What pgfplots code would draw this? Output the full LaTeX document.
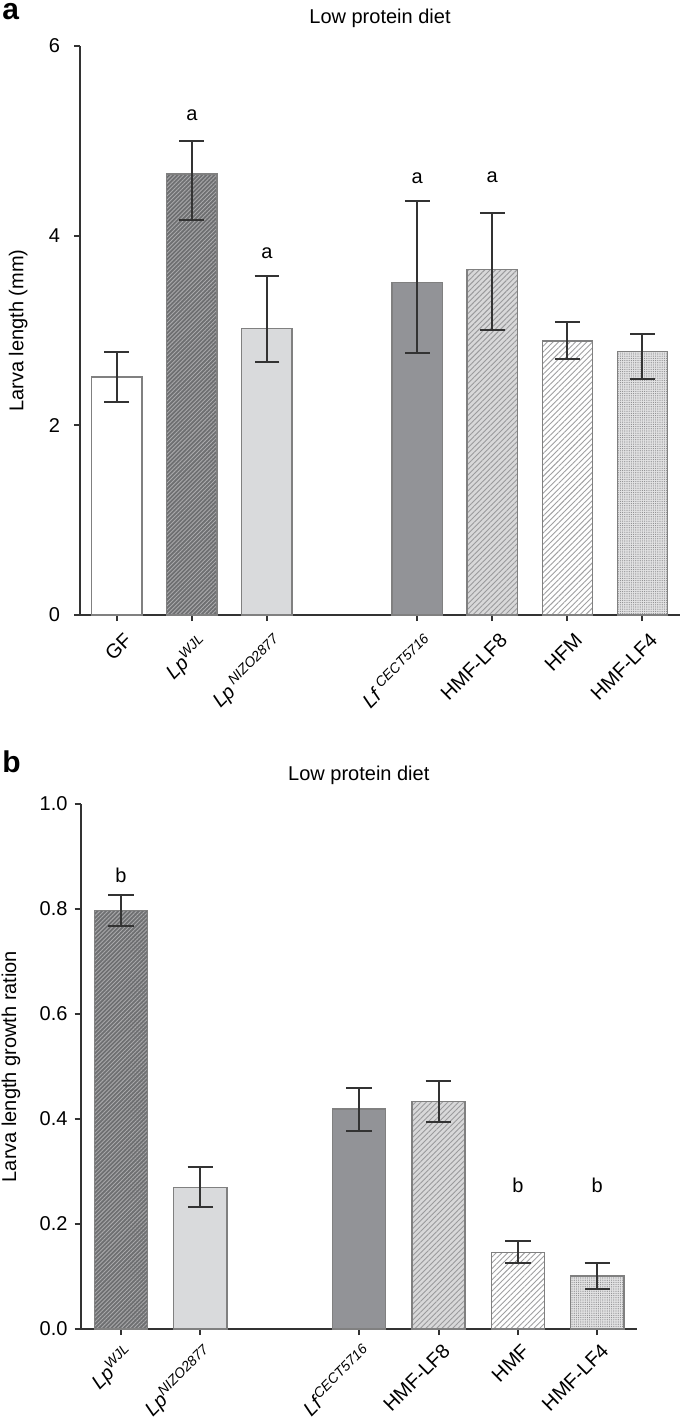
\documentclass[border=0pt]{standalone}
\usepackage{pgfplots}
\pgfplotsset{compat=1.18}
\usepackage{fontspec}
\setmainfont{Liberation Sans}
\usetikzlibrary{patterns.meta}
\definecolor{bd}{HTML}{808080}
\definecolor{axc}{HTML}{333333}
\definecolor{fWJL}{HTML}{6E6F71}
\definecolor{sWJL}{HTML}{A9A9AB}
\definecolor{fNIZO}{HTML}{D9DADC}
\definecolor{fLf}{HTML}{929397}
\definecolor{fLF8}{HTML}{D8D8D9}
\definecolor{sLF8}{HTML}{9A9A9C}
\definecolor{sHFM}{HTML}{A0A0A2}
\definecolor{fLF4}{HTML}{E2E2E3}
\definecolor{dLF4}{HTML}{8A8A8C}
\begin{document}
\fontsize{10pt}{12pt}\selectfont
\begin{tikzpicture}
\useasboundingbox (0,0) rectangle (342.5pt,-710.5pt);
\pgfplotsset{
  mybase/.style={
    scale only axis, axis lines*=left,
    axis line style={line width=1pt, color=axc},
    every tick/.style={line width=1pt, color=axc},
    tick align=outside, major tick length=3pt,
    clip=false, ymin=0,
    /pgf/number format/assume math mode=true,
    ticklabel style={font=\fontsize{10pt}{12pt}\selectfont},
    xticklabel style={rotate=45, anchor=north east, inner sep=1.5pt},
    xtick pos=bottom, ytick pos=left,
    label style={font=\fontsize{10pt}{12pt}\selectfont},
  },
  bb/.style={ybar, bar width=0.67, bar shift=0pt, draw=bd, line width=0.65pt},
  eb/.style={error bars/.cd, y dir=both, y explicit,
    error bar style={line width=1pt, color=axc},
    error mark options={rotate=90, mark size=#1, line width=1pt, color=axc}},
}
% ---------------- Panel a ----------------
\node[anchor=base west, inner sep=0pt, font=\bfseries\fontsize{15pt}{18pt}\selectfont] at (1pt,-9.5pt) {a};
\node[anchor=base, inner sep=0pt] at (190pt,-11.5pt) {Low protein diet};
\begin{axis}[mybase,
  at={(40pt,-307.5pt)}, anchor=south west,
  width=300pt, height=284.5pt,
  xmin=-0.49, xmax=7.5, ymax=6,
  ytick={0,2,4,6},
  yticklabel style={xshift=-3.5pt},
  xticklabel style={yshift=-4.5pt},
  xtick={0,1,2,4,5,6,7},
  xticklabels={GF, \textit{Lp}\textsuperscript{\textit{WJL}}, \textit{Lp}\,\textsuperscript{\textit{NIZO2877}}, \textit{Lf}\,\textsuperscript{\textit{CECT5716}}, HMF-LF8, HFM, HMF-LF4},
  ylabel={Larva length (mm)},
  ylabel style={at={(axis description cs:-0.103,0.5)}, anchor=center},
]
\addplot[bb, fill=white, eb=6.2pt] coordinates {(0,2.51) += (0,0.26) -= (0,0.26)};
\addplot[bb, fill=fWJL, postaction={pattern={Lines[angle=45,distance=1.45pt,line width=0.45pt]}, pattern color=sWJL}, eb=6.2pt] coordinates {(1,4.65) += (0,0.35) -= (0,0.48)};
\addplot[bb, fill=fNIZO, eb=6.2pt] coordinates {(2,3.02) += (0,0.55) -= (0,0.35)};
\addplot[bb, fill=fLf, eb=6.2pt] coordinates {(4,3.51) += (0,0.86) -= (0,0.75)};
\addplot[bb, fill=fLF8, postaction={pattern={Lines[angle=45,distance=1.9pt,line width=0.45pt]}, pattern color=sLF8}, eb=6.2pt] coordinates {(5,3.64) += (0,0.60) -= (0,0.63)};
\addplot[bb, fill=white, postaction={pattern={Lines[angle=45,distance=2pt,line width=0.45pt]}, pattern color=sHFM}, eb=6.2pt] coordinates {(6,2.89) += (0,0.20) -= (0,0.19)};
\addplot[bb, fill=fLF4, postaction={pattern={Dots[distance=1.1pt,radius=0.3pt]}, pattern color=dLF4}, eb=6.2pt] coordinates {(7,2.78) += (0,0.18) -= (0,0.29)};
\node at (axis cs:1,5.27) {a};
\node at (axis cs:2,3.82) {a};
\node at (axis cs:4,4.61) {a};
\node at (axis cs:5,4.62) {a};
\end{axis}
% ---------------- Panel b ----------------
\node[anchor=base west, inner sep=0pt, font=\bfseries\fontsize{15pt}{18pt}\selectfont] at (1pt,-386pt) {b};
\node[anchor=base, inner sep=0pt] at (179.4pt,-390pt) {Low protein diet};
\begin{axis}[mybase,
  at={(40.25pt,-664.5pt)}, anchor=south west,
  width=278.25pt, height=262.5pt,
  xmin=-0.51, xmax=6.5, ymax=1,
  ytick={0,0.2,0.4,0.6,0.8,1.0},
  yticklabel style={/pgf/number format/.cd, fixed, fixed zerofill, precision=1},
  xticklabel style={yshift=-2pt},
  xtick={0,1,3,4,5,6},
  xticklabels={\textit{Lp}\textsuperscript{\textit{WJL}}, \textit{Lp}\textsuperscript{\textit{NIZO2877}}, \textit{Lf}\textsuperscript{\textit{CECT5716}}, HMF-LF8, HMF, HMF-LF4},
  ylabel={Larva length growth ration},
  ylabel style={at={(axis description cs:-0.125,0.5)}, anchor=center},
]
\addplot[bb, fill=fWJL, postaction={pattern={Lines[angle=45,distance=1.45pt,line width=0.45pt]}, pattern color=sWJL}, eb=6.4pt] coordinates {(0,0.797) += (0,0.030) -= (0,0.029)};
\addplot[bb, fill=fNIZO, eb=6.4pt] coordinates {(1,0.269) += (0,0.040) -= (0,0.037)};
\addplot[bb, fill=fLf, eb=6.4pt] coordinates {(3,0.419) += (0,0.041) -= (0,0.042)};
\addplot[bb, fill=fLF8, postaction={pattern={Lines[angle=45,distance=1.9pt,line width=0.45pt]}, pattern color=sLF8}, eb=6.4pt] coordinates {(4,0.434) += (0,0.039) -= (0,0.039)};
\addplot[bb, fill=white, postaction={pattern={Lines[angle=45,distance=2pt,line width=0.45pt]}, pattern color=sHFM}, eb=6.4pt] coordinates {(5,0.146) += (0,0.022) -= (0,0.021)};
\addplot[bb, fill=fLF4, postaction={pattern={Dots[distance=1.1pt,radius=0.3pt]}, pattern color=dLF4}, eb=6.4pt] coordinates {(6,0.101) += (0,0.024) -= (0,0.025)};
\node at (axis cs:0,0.865) {b};
\node at (axis cs:5,0.274) {b};
\node at (axis cs:6,0.274) {b};
\end{axis}
\end{tikzpicture}
\end{document}
